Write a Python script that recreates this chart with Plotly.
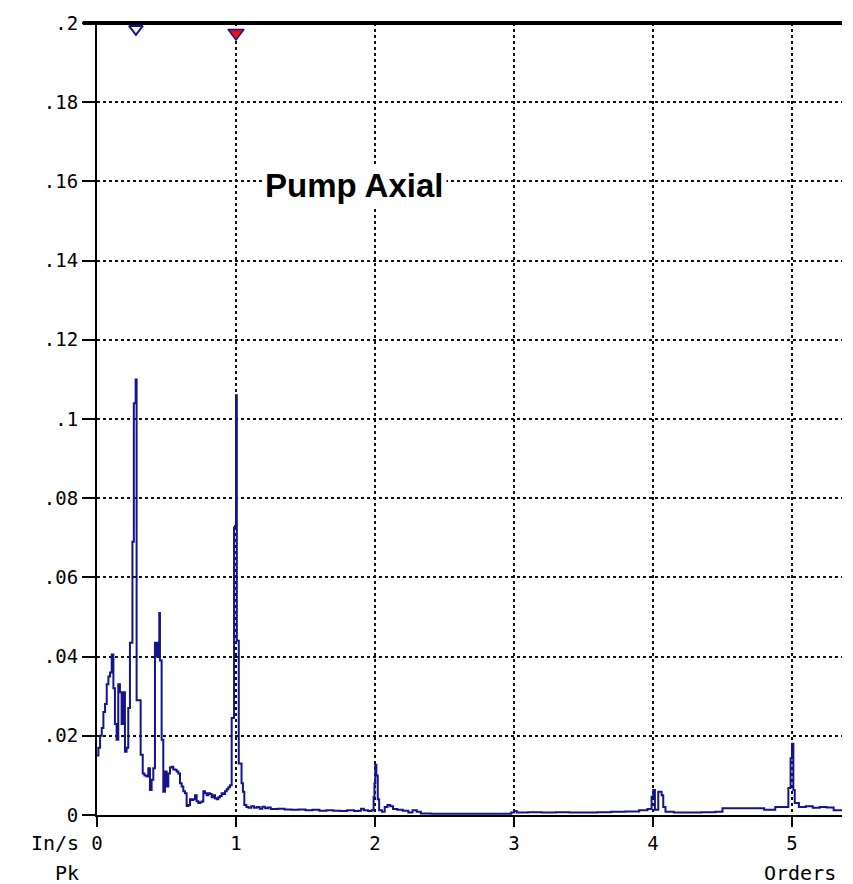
import plotly.graph_objects as go

orders = [0.000, 0.010, 0.022, 0.034, 0.046, 0.058, 0.070, 0.082, 0.094, 0.106,
          0.118, 0.129, 0.141, 0.153, 0.165, 0.177, 0.189, 0.201, 0.213, 0.225,
          0.237, 0.255, 0.265, 0.278, 0.285, 0.297, 0.309, 0.314, 0.329, 0.341,
          0.357, 0.369, 0.381, 0.393, 0.405, 0.417, 0.429, 0.441, 0.448, 0.453,
          0.465, 0.477, 0.489, 0.501, 0.513, 0.525, 0.537, 0.549, 0.561, 0.573,
          0.585, 0.597, 0.609, 0.621, 0.633, 0.645, 0.657, 0.669, 0.681, 0.693,
          0.705, 0.717, 0.729, 0.741, 0.753, 0.765, 0.777, 0.789, 0.801, 0.813,
          0.825, 0.837, 0.849, 0.861, 0.873, 0.885, 0.897, 0.909, 0.921, 0.933,
          0.945, 0.957, 0.969, 0.978, 0.986, 0.993, 1.000, 1.006, 1.012, 1.020,
          1.030, 1.040, 1.050, 1.060, 1.075, 1.090, 1.110, 1.130, 1.150, 1.170,
          1.190, 1.210, 1.230, 1.250, 1.300, 1.350, 1.400, 1.450, 1.500, 1.550,
          1.600, 1.650, 1.700, 1.750, 1.800, 1.850, 1.880, 1.900, 1.920, 1.950,
          1.975, 1.990, 1.996, 2.002, 2.010, 2.020, 2.030, 2.050, 2.070, 2.090,
          2.110, 2.130, 2.160, 2.200, 2.240, 2.270, 2.300, 2.330, 2.400, 2.500,
          2.600, 2.700, 2.800, 2.900, 2.980, 3.000, 3.020, 3.100, 3.200, 3.300,
          3.400, 3.500, 3.600, 3.700, 3.800, 3.900, 3.960, 3.990, 4.002, 4.014,
          4.038, 4.062, 4.074, 4.090, 4.150, 4.250, 4.350, 4.450, 4.500, 4.600,
          4.700, 4.800, 4.880, 4.950, 4.974, 4.990, 5.000, 5.010, 5.020, 5.050,
          5.100, 5.150, 5.200, 5.250, 5.300, 5.360]

amplitude = [0.0150, 0.0170, 0.0200, 0.0220, 0.0260, 0.0280, 0.0330, 0.0350, 0.0360, 0.0405,
             0.0320, 0.0230, 0.0190, 0.0330, 0.0310, 0.0230, 0.0310, 0.0160, 0.0170, 0.0270,
             0.0435, 0.0690, 0.1040, 0.1100, 0.0290, 0.0290, 0.0290, 0.0152, 0.0105, 0.0100,
             0.0097, 0.0118, 0.0063, 0.0089, 0.0118, 0.0435, 0.0400, 0.0435, 0.0510, 0.0390,
             0.0190, 0.0059, 0.0110, 0.0072, 0.0105, 0.0120, 0.0122, 0.0115, 0.0114, 0.0110,
             0.0105, 0.0080, 0.0072, 0.0060, 0.0055, 0.0023, 0.0025, 0.0040, 0.0038, 0.0040,
             0.0050, 0.0035, 0.0030, 0.0032, 0.0034, 0.0060, 0.0055, 0.0050, 0.0055, 0.0053,
             0.0045, 0.0050, 0.0042, 0.0040, 0.0045, 0.0048, 0.0055, 0.0053, 0.0060, 0.0065,
             0.0070, 0.0075, 0.0245, 0.0245, 0.0726, 0.0730, 0.1060, 0.0440, 0.0440, 0.0130,
             0.0130, 0.0080, 0.0059, 0.0025, 0.0020, 0.0018, 0.0022, 0.0018, 0.0020, 0.0016,
             0.0021, 0.0017, 0.0019, 0.0015, 0.0016, 0.0014, 0.0013, 0.0014, 0.0012, 0.0013,
             0.0011, 0.0012, 0.0011, 0.0010, 0.0012, 0.0010, 0.0011, 0.0016, 0.0012, 0.0010,
             0.0012, 0.0045, 0.0080, 0.0127, 0.0100, 0.0040, 0.0012, 0.0008, 0.0020, 0.0025,
             0.0022, 0.0015, 0.0013, 0.0011, 0.0006, 0.0012, 0.0008, 0.0004, 0.0003, 0.0003,
             0.0003, 0.0003, 0.0003, 0.0003, 0.0006, 0.0010, 0.0006, 0.0007, 0.0006, 0.0007,
             0.0006, 0.0006, 0.0007, 0.0008, 0.0009, 0.0012, 0.0015, 0.0046, 0.0063, 0.0013,
             0.0059, 0.0050, 0.0020, 0.0008, 0.0006, 0.0006, 0.0007, 0.0008, 0.0017, 0.0017,
             0.0017, 0.0013, 0.0020, 0.0020, 0.0068, 0.0143, 0.0180, 0.0063, 0.0030, 0.0020,
             0.0022, 0.0018, 0.0020, 0.0019, 0.0012, 0.0010]

y_ticks = [0, 0.02, 0.04, 0.06, 0.08, 0.1, 0.12, 0.14, 0.16, 0.18, 0.2]
y_tick_labels = ["0", ".02", ".04", ".06", ".08", ".1", ".12", ".14", ".16", ".18", ".2"]
x_ticks = [0, 1, 2, 3, 4, 5]
x_tick_labels = ["0", "1", "2", "3", "4", "5"]

cursor_x = [0.28]
cursor_y = [0.1985]
marker_x = [1.0]
marker_y = [0.1975]

title_text = "Pump Axial"
y_unit = "In/s"
y_unit2 = "Pk"
x_unit = "Orders"

NAVY = "#14148c"
MONO = "DejaVu Sans Mono, Liberation Mono, monospace"

fig = go.Figure()
fig.add_trace(go.Scatter(x=orders, y=amplitude, mode="lines",
                         line=dict(color=NAVY, width=2, shape="hv"),
                         showlegend=False, hoverinfo="skip"))
fig.add_trace(go.Scatter(x=cursor_x, y=cursor_y, mode="markers",
                         marker=dict(symbol="triangle-down-open", size=12,
                                     color=NAVY, line=dict(width=2, color=NAVY)),
                         showlegend=False, cliponaxis=False))
fig.add_trace(go.Scatter(x=marker_x, y=marker_y, mode="markers",
                         marker=dict(symbol="triangle-down", size=14, color="#ee1111",
                                     line=dict(width=1.5, color=NAVY)),
                         showlegend=False, cliponaxis=False))

fig.add_shape(type="line", xref="paper", yref="paper", x0=-0.019, x1=1.0, y0=1.0, y1=1.0,
              line=dict(color="black", width=4), layer="above")

fig.add_annotation(x=1.85, y=0.159, xref="x", yref="y", text="<b>" + title_text + "</b>",
                   showarrow=False, bgcolor="white", borderpad=2,
                   font=dict(family="Liberation Sans, Arial", size=33, color="black"),
                   xanchor="center", yanchor="middle")
fig.add_annotation(x=-0.021, y=-0.035, xref="paper", yref="paper", text=y_unit,
                   showarrow=False, xanchor="right", yanchor="middle",
                   font=dict(family=MONO, size=20, color="black"))
fig.add_annotation(x=-0.021, y=-0.073, xref="paper", yref="paper", text=y_unit2,
                   showarrow=False, xanchor="right", yanchor="middle",
                   font=dict(family=MONO, size=20, color="black"))
fig.add_annotation(x=0.995, y=-0.073, xref="paper", yref="paper", text=x_unit,
                   showarrow=False, xanchor="right", yanchor="middle",
                   font=dict(family=MONO, size=20, color="black"))

fig.update_layout(
    width=853, height=884,
    margin=dict(l=97, r=11, t=23, b=69),
    paper_bgcolor="white", plot_bgcolor="white",
    xaxis=dict(range=[0, 5.36], tickvals=x_ticks, ticktext=x_tick_labels,
               showgrid=True, gridcolor="#111111", griddash="dot", gridwidth=1.5,
               showline=True, linecolor="black", linewidth=2,
               ticks="outside", ticklen=10, tickwidth=2, tickcolor="black",
               tickfont=dict(family=MONO, size=19, color="black"),
               zeroline=False, fixedrange=True),
    yaxis=dict(range=[0, 0.2], tickvals=y_ticks, ticktext=y_tick_labels,
               showgrid=True, gridcolor="#111111", griddash="dot", gridwidth=1.5,
               showline=True, linecolor="black", linewidth=2,
               ticks="outside", ticklen=13, tickwidth=2, tickcolor="black",
               tickfont=dict(family=MONO, size=19, color="black"),
               zeroline=False, fixedrange=True),
)

fig.write_html("out.html")
